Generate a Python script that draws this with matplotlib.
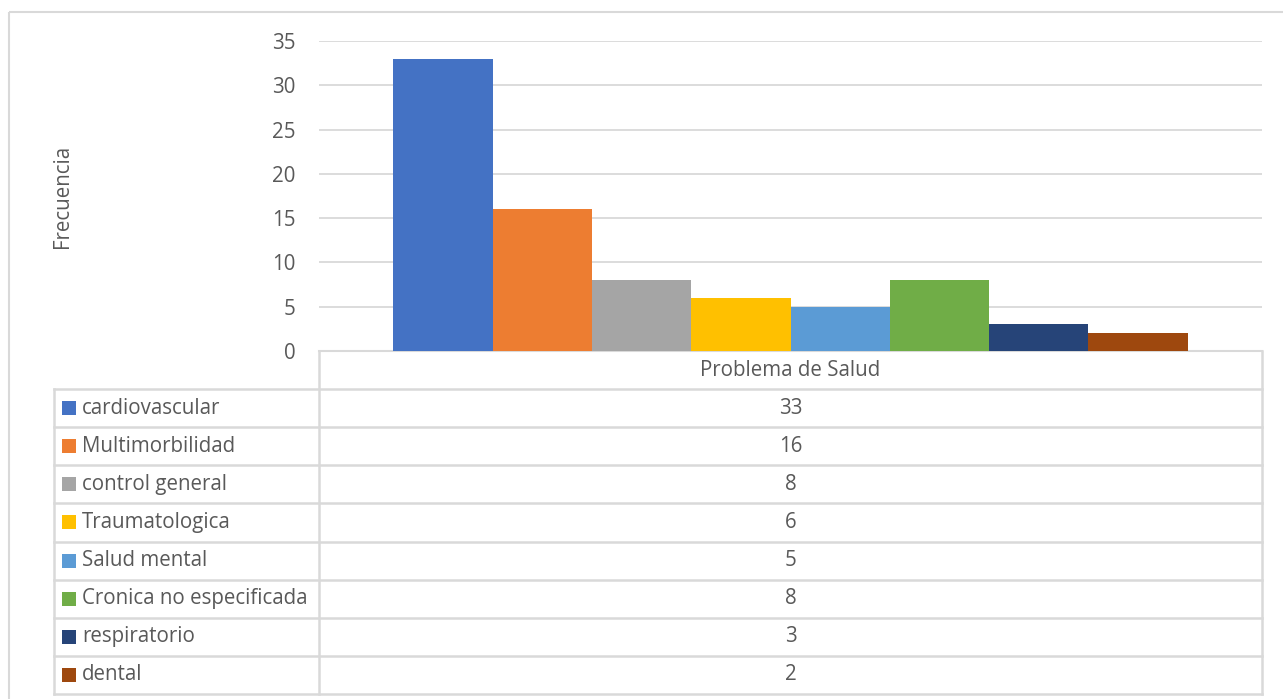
import matplotlib
matplotlib.use("Agg")
import matplotlib.pyplot as plt
from matplotlib.patches import Rectangle

plt.rcParams['font.family'] = ['Open Sans', 'DejaVu Sans']

# Frecuencia por problema de salud
categorias = ['cardiovascular', 'Multimorbilidad', 'control general', 'Traumatologica',
              'Salud mental', 'Cronica no especificada', 'respiratorio', 'dental']
frecuencia = [33, 16, 8, 6, 5, 8, 3, 2]
colores = ['#4472C4', '#ED7D31', '#A5A5A5', '#FFC000',
           '#5B9BD5', '#70AD47', '#264478', '#9E480E']
grupo = 'Problema de Salud'
yticks = [0, 5, 10, 15, 20, 25, 30, 35]

W, H = 1283, 699
gris = '#D9D9D9'
texto = '#595959'
fs = 14.8

fig = plt.figure(figsize=(W / 100, H / 100), dpi=100)

# zona del grafico en pixeles
x0, x1 = 319, 1262
ytop, ybot = 41, 351
ax = fig.add_axes([x0 / W, 1 - ybot / H, (x1 - x0) / W, (ybot - ytop) / H])

w = 1 / (len(frecuencia) + 1.5)
xs = [0.75 * w + i * w for i in range(len(frecuencia))]
ax.bar(xs, frecuencia, width=w, align='edge', color=colores, zorder=3)

ax.set_xlim(0, 1)
ax.set_ylim(0, 35)
ax.set_yticks(yticks)
ax.set_xticks([])
ax.grid(axis='y', color=gris, linewidth=1.3, zorder=0)
for s in ['top', 'right', 'left']:
    ax.spines[s].set_visible(False)
ax.spines['bottom'].set_color(gris)
ax.spines['bottom'].set_linewidth(1.5)
ax.tick_params(axis='y', length=0, pad=17, labelsize=fs, labelcolor=texto)

fig.text(62 / W, 1 - 196 / H, 'Frecuencia', rotation=90, ha='center', va='center',
         fontsize=fs, color=texto)

# tabla de datos debajo, en coordenadas de pixel
tb = fig.add_axes([0, 0, 1, 1], zorder=-1)
tb.set_xlim(0, W)
tb.set_ylim(H, 0)
tb.axis('off')

tb.add_patch(Rectangle((8.5, 11.5), W + 20, H + 20, fill=False, edgecolor=gris, linewidth=1.5))

xl = 54
fila0 = 389
alto = (694 - fila0) / len(categorias)
lw = 1.8
tb.plot([x0, x0], [ybot, 694], color=gris, lw=lw)
tb.plot([x1, x1], [ybot, 694], color=gris, lw=lw)
tb.plot([xl, xl], [fila0, 694], color=gris, lw=lw)
for i in range(len(categorias) + 1):
    y = fila0 + i * alto
    tb.plot([xl, x1], [y, y], color=gris, lw=lw)

xc = (x0 + x1) / 2
tb.text(xc, (ybot + fila0) / 2, grupo, ha='center', va='center', fontsize=fs, color=texto)
for i, (cat, val, col) in enumerate(zip(categorias, frecuencia, colores)):
    yc = fila0 + (i + 0.5) * alto
    tb.add_patch(Rectangle((62, yc - 7), 14, 14, color=col, lw=0))
    tb.text(82, yc, cat, ha='left', va='center', fontsize=fs, color=texto)
    tb.text(xc, yc, str(val), ha='center', va='center', fontsize=fs, color=texto)

fig.savefig('out.png', dpi=100)
